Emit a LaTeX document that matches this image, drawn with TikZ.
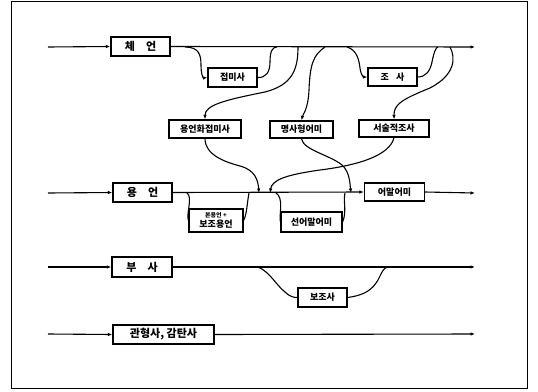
\documentclass[tikz,border=0pt]{standalone}
\usepackage{fontspec}
\newfontfamily\kr{Noto Sans CJK KR}
\usetikzlibrary{arrows.meta}
\tikzset{
  mainbox/.style={draw, line width=1.3pt, minimum width=#1, minimum height=19pt, inner sep=0pt, font=\kr\bfseries\fontsize{11}{11}\selectfont},
  subbox/.style={draw, line width=1.2pt, minimum width=#1, minimum height=18pt, inner sep=0pt, font=\kr\bfseries\fontsize{9}{9}\selectfont},
  flow/.style={line width=1.1pt},
  tip/.style={-{Latex[length=4.5pt,width=3.5pt]}},
}
\begin{document}
\begin{tikzpicture}[x=1pt,y=-1pt]
\useasboundingbox (0,0) rectangle (538,391);
\draw[line width=1pt] (11,1) rectangle (527,388);

% main boxes
\node[mainbox=59pt] (che) at (140.5,46.5) {체\hspace{1em}언};
\node[mainbox=59pt] (yong) at (142.5,192.5) {용\hspace{1em}언};
\node[mainbox=60pt, minimum height=20pt] (busa) at (142,267) {부\hspace{1em}사};
\node[mainbox=101pt] (gwan) at (163.5,334.5) {관형사, 감탄사};

% sub boxes
\node[subbox=49pt, minimum height=19pt] (jm) at (232.5,77.5) {접미사};
\node[subbox=49pt] (josa) at (392.5,77) {조\hspace{0.8em}사};
\node[subbox=72pt] (ywh) at (205,129) {용언화접미사};
\node[subbox=63pt, minimum height=17pt] (mh) at (301.5,129.5) {명사형어미};
\node[subbox=70pt, minimum height=17pt] (sj) at (394,128.5) {서술적조사};
\node[subbox=54pt, minimum height=23pt, align=center] (bon) at (216,220.5) {{\fontsize{6}{6}\selectfont 본용언 +}\\[1pt]보조용언};
\node[subbox=61pt, minimum height=20pt] (sem) at (311.5,222) {선어말어미};
\node[subbox=60pt] (eom) at (394.5,192) {어말어미};
\node[subbox=49pt, minimum height=19pt] (bjs) at (322.5,297.5) {보조사};

% line coordinates
\coordinate (s1) at (48,47);  \coordinate (e1) at (475,47);
\coordinate (s2) at (48,193); \coordinate (e2) at (475,193);
\coordinate (s3) at (48,267); \coordinate (e3) at (475,267);
\coordinate (s4) at (48,334); \coordinate (e4) at (475,334);

\coordinate (a1) at (185,47);
\coordinate (b1) at (277,47);
\coordinate (c1) at (298,47);
\coordinate (e1c) at (325,47);
\coordinate (g1) at (347,47);
\coordinate (h1) at (438,47);
\coordinate (i1) at (450,47);
\coordinate (d2) at (259,193);
\coordinate (j2) at (270,193);
\coordinate (f2) at (351,193);
\coordinate (k1) at (187,193);
\coordinate (l2) at (249,193);
\coordinate (m1) at (276,193);
\coordinate (n2) at (345,193);
\coordinate (o1) at (258,267);
\coordinate (p1) at (388,267);

% main lines
\draw[flow,tip] (s1) -- (che.west);
\draw[flow,tip] (che.east) -- (e1);
\draw[flow,tip] (s2) -- (yong.west);
\draw[flow,tip] (yong.east) -- (eom.west);
\draw[flow,tip] (eom.east) -- (e2);
\draw[flow,tip] (s3) -- (busa.west);
\draw[flow,tip] (busa.east) -- (e3);
\draw[flow,tip] (s4) -- (gwan.west);
\draw[flow,tip] (gwan.east) -- (e4);

% row 1 branches
\draw[flow,tip] (a1) .. controls (199,47) and (201,55) .. (201,65) .. controls (201,74) and (203,78) .. (jm.west);
\draw[flow] (jm.east) .. controls (266,78) and (270,72) .. (270,62) .. controls (270,52) and (272,47) .. (b1);
\draw[flow,tip] (c1) .. controls (298,70) and (292,85) .. (265,92) .. controls (225,100) and (205,105) .. (ywh.north);
\draw[flow,tip] (ywh.south) .. controls (205,155) and (225,162) .. (240,166) .. controls (255,170) and (258,180) .. (d2);
\draw[flow,tip] (e1c) .. controls (313,55) and (310,65) .. (309,90) .. controls (308,110) and (303,114) .. (mh.north);
\draw[flow,tip] (mh.south) .. controls (303,150) and (330,155) .. (342,165) .. controls (350,172) and (350,185) .. (f2);
\draw[flow,tip] (g1) .. controls (357,50) and (359,60) .. (360,68) .. controls (361,76) and (364,77) .. (josa.west);
\draw[flow] (josa.east) .. controls (425,77) and (430,72) .. (432,62) .. controls (434,52) and (436,47) .. (h1);
\draw[flow,tip] (i1) .. controls (456,58) and (455,75) .. (430,88) .. controls (400,100) and (394,105) .. (sj.north);
\draw[flow,tip] (sj.south) .. controls (390,155) and (360,165) .. (320,170) .. controls (285,175) and (272,180) .. (j2);

% row 2 branches
\draw[flow] (k1) .. controls (193,197) and (186,214) .. (bon.west);
\draw[flow] (bon.east) .. controls (247,214) and (247,203) .. (l2);
\draw[flow] (m1) .. controls (284,198) and (279,214) .. (sem.west);
\draw[flow] (sem.east) .. controls (347,212) and (343,201) .. (n2);

% row 3 branches
\draw[flow] (o1) .. controls (270,272) and (276,285) .. (285,292) .. controls (290,297) and (294,297.5) .. (bjs.west);
\draw[flow] (bjs.east) .. controls (365,295) and (372,290) .. (378,280) .. controls (382,272) and (384,267) .. (p1);
\end{tikzpicture}
\end{document}
